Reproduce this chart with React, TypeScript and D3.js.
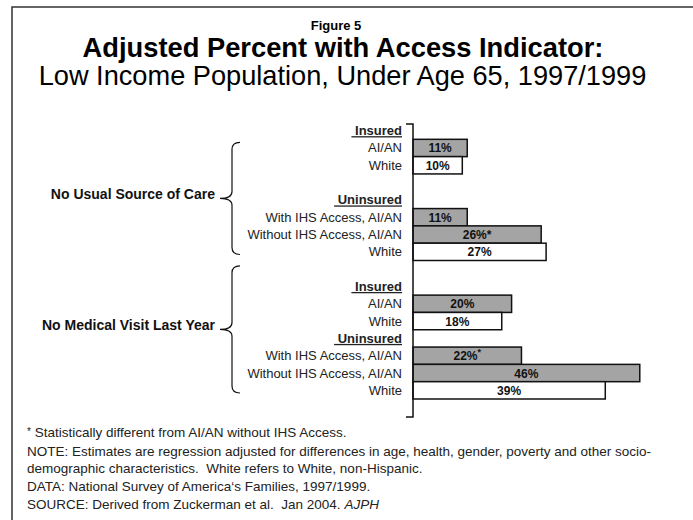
import React from "react";
import * as d3 from "d3";

const figureLabel = "Figure 5";
const titleText = "Adjusted Percent with Access Indicator:";
const subtitleText = "Low Income Population, Under Age 65, 1997/1999";

const groups = ["No Usual Source of Care", "No Medical Visit Last Year"];
const subgroups = ["Insured", "Uninsured"];
const insuredCats = ["AI/AN", "White"];
const uninsuredCats = ["With IHS Access, AI/AN", "Without IHS Access, AI/AN", "White"];
const catKinds = ["aian", "white", "aian", "aian", "white"];

const usualCareValues = [11, 10, 11, 26, 27];
const medicalVisitValues = [20, 18, 22, 46, 39];
const usualCareStars = ["", "", "", "inline", ""];
const medicalVisitStars = ["", "", "sup", "", ""];

const footnotes = [
  "Statistically different from AI/AN without IHS Access.",
  "NOTE: Estimates are regression adjusted for differences in age, health, gender, poverty and other socio-",
  "demographic characteristics.  White refers to White, non-Hispanic.",
  "DATA: National Survey of America\u2018s Families, 1997/1999.",
  "SOURCE: Derived from Zuckerman et al.  Jan 2004. ",
];

const W = 693;
const H = 520;
const FONT = "'Liberation Sans', Arial, Helvetica, sans-serif";
const GREY = "#a4a4a4";

type Row = { key: string; type: "hdr" | "bar" | "gap"; group: number; label?: string; value?: number; kind?: string; star?: string };

function buildRows(): Row[] {
  const rows: Row[] = [];
  const vals = [usualCareValues, medicalVisitValues];
  const stars = [usualCareStars, medicalVisitStars];
  groups.forEach((g, gi) => {
    if (gi > 0) rows.push({ key: `g${gi}-gap0`, type: "gap", group: gi });
    rows.push({ key: `g${gi}-h0`, type: "hdr", group: gi, label: subgroups[0] });
    insuredCats.forEach((c, ci) =>
      rows.push({ key: `g${gi}-b${ci}`, type: "bar", group: gi, label: c, value: vals[gi][ci], kind: catKinds[ci], star: stars[gi][ci] })
    );
    if (gi === 0) rows.push({ key: `g${gi}-gap1`, type: "gap", group: gi });
    rows.push({ key: `g${gi}-h1`, type: "hdr", group: gi, label: subgroups[1] });
    uninsuredCats.forEach((c, k) => {
      const ci = k + insuredCats.length;
      rows.push({ key: `g${gi}-b${ci}`, type: "bar", group: gi, label: c, value: vals[gi][ci], kind: catKinds[ci], star: stars[gi][ci] });
    });
  });
  return rows;
}

function bracePath(xTip: number, xv: number, xEnd: number, y0: number, y1: number, ym: number) {
  const r = 7;
  return [
    `M${xEnd},${y0}`,
    `Q${xv},${y0} ${xv},${y0 + r}`,
    `L${xv},${ym - r}`,
    `Q${xv},${ym} ${xTip},${ym}`,
    `Q${xv},${ym} ${xv},${ym + r}`,
    `L${xv},${y1 - r}`,
    `Q${xv},${y1} ${xEnd},${y1}`,
  ].join(" ");
}

export default function App() {
  const rows = buildRows();
  const y = d3.scaleBand<string>().domain(rows.map((r) => r.key)).range([122, 399]).paddingInner(0).paddingOuter(0);
  const x = d3.scaleLinear().domain([0, 50]).range([413, 659.5]);
  const bh = y.bandwidth();
  const labelX = 402;
  const footY = [437, 456, 473, 491, 509];

  return (
    <div style={{ position: "absolute", left: 0, top: 0 }}>
      <svg width={W} height={H} style={{ display: "block", fontFamily: FONT }}>
        <rect x={0} y={0} width={W} height={H} fill="#fff" />
        {/* frame */}
        <path d={`M12,${H + 5} L12,7 L${W + 5},7`} fill="none" stroke="#333" strokeWidth={1.5} />

        {/* titles */}
        <text x={336} y={30} textAnchor="middle" fontSize={13} fontWeight="bold">{figureLabel}</text>
        <text x={343} y={57} textAnchor="middle" fontSize={27.3} fontWeight="bold">{titleText}</text>
        <text x={342.5} y={85} textAnchor="middle" fontSize={27.2}>{subtitleText}</text>

        {/* bars */}
        {rows.filter((r) => r.type === "bar").map((r) => {
          const y0 = y(r.key)!;
          const x1 = x(r.value!);
          const cx = (x(0) + x1) / 2;
          return (
            <g key={r.key}>
              <rect x={x(0)} y={y0} width={x1 - x(0)} height={bh} fill={r.kind === "aian" ? GREY : "#fff"} stroke="#111" strokeWidth={1.5} />
              <text x={cx} y={y0 + bh / 2 + 4.5} textAnchor="middle" fontSize={12} fontWeight="bold" fill="#111">
                {`${r.value}%`}
                {r.star === "inline" ? "*" : null}
                {r.star === "sup" ? <tspan fontSize={9} dy={-5}>*</tspan> : null}
              </text>
            </g>
          );
        })}

        {/* row labels */}
        {rows.filter((r) => r.type !== "gap").map((r) => {
          const yc = y(r.key)! + bh / 2 + 4.5;
          if (r.type === "hdr") {
            return (
              <text key={r.key + "l"} x={labelX} y={yc} textAnchor="end" fontSize={13} fontWeight="bold" fill="#222" textDecoration="underline" style={{ whiteSpace: "pre" }}>
                {"\u00a0" + r.label}
              </text>
            );
          }
          return (
            <text key={r.key + "l"} x={labelX} y={yc} textAnchor="end" fontSize={13} fill="#222">{r.label}</text>
          );
        })}

        {/* axis */}
        <path d={`M${x(0) - 7},124 L${x(0)},124 L${x(0)},417 L${x(0) - 7},417`} fill="none" stroke="#111" strokeWidth={1.5} />

        {/* group braces and labels */}
        {groups.map((g, gi) => {
          const gRows = rows.filter((r) => r.group === gi && r.type !== "gap");
          const bars = gRows.filter((r) => r.type === "bar");
          const top = gi === 0 ? y(bars[0].key)! + 3 : y(gRows[0].key)! - 12;
          const bottom = y(bars[bars.length - 1].key)! + bh - 6;
          const mid = (top + bottom) / 2;
          return (
            <g key={g}>
              <path d={bracePath(220, 232, 240, top, bottom, mid)} fill="none" stroke="#111" strokeWidth={1.2} />
              <text x={215} y={mid + 1} textAnchor="end" fontSize={14} fontWeight="bold" fill="#111">{g}</text>
            </g>
          );
        })}

        {/* footnotes */}
        {footnotes.map((f, i) => (
          <text key={i} x={27} y={footY[i]} fontSize={13.5} fill="#222" style={{ whiteSpace: "pre" }}>
            {i === 0 ? <tspan fontSize={10} dy={-2}>*</tspan> : null}
            {i === 0 ? <tspan dy={2}>{" " + f}</tspan> : f}
            {i === 4 ? <tspan fontStyle="italic">AJPH</tspan> : null}
          </text>
        ))}
      </svg>
    </div>
  );
}
